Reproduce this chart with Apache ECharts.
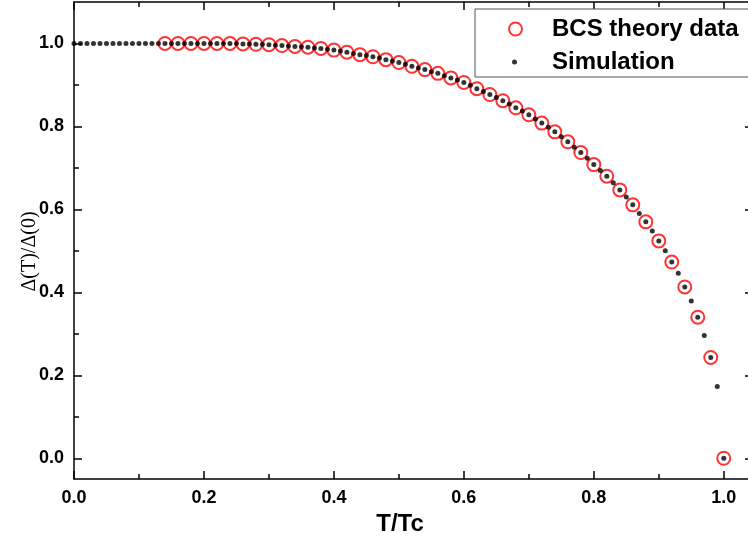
<!DOCTYPE html>
<html><head><meta charset="utf-8">
<script src="https://cdn.jsdelivr.net/npm/echarts@6.0.0/dist/echarts.min.js"></script>
<style>html,body{margin:0;padding:0;background:#fff}#c{width:748px;height:540px}</style>
</head><body><div id="c"></div>
<script>
// BCS theory data (T/Tc, Δ(T)/Δ(0))
const bcsT = [0.14,0.16,0.18,0.20,0.22,0.24,0.26,0.28,0.30,0.32,0.34,0.36,0.38,0.40,0.42,0.44,0.46,0.48,0.50,0.52,
  0.54,0.56,0.58,0.60,0.62,0.64,0.66,0.68,0.70,0.72,0.74,0.76,0.78,0.80,0.82,0.84,0.86,0.88,0.90,0.92,0.94,0.96,0.98,1.00];
const bcsGap = [1.000,1.000,1.000,1.000,1.000,1.000,0.999,0.998,0.997,0.995,0.993,0.991,0.988,0.984,0.979,0.973,0.968,0.961,0.954,0.945,
  0.937,0.928,0.917,0.906,0.891,0.877,0.862,0.845,0.828,0.808,0.787,0.763,0.737,0.708,0.680,0.647,0.611,0.570,0.524,0.473,0.413,0.340,0.243,0.000];
// Simulation
const simT = [0.00,0.01,0.02,0.03,0.04,0.05,0.06,0.07,0.08,0.09,0.10,0.11,0.12,0.13,0.14,0.15,0.16,0.17,0.18,0.19,
  0.20,0.21,0.22,0.23,0.24,0.25,0.26,0.27,0.28,0.29,0.30,0.31,0.32,0.33,0.34,0.35,0.36,0.37,0.38,0.39,
  0.40,0.41,0.42,0.43,0.44,0.45,0.46,0.47,0.48,0.49,0.50,0.51,0.52,0.53,0.54,0.55,0.56,0.57,0.58,0.59,
  0.60,0.61,0.62,0.63,0.64,0.65,0.66,0.67,0.68,0.69,0.70,0.71,0.72,0.73,0.74,0.75,0.76,0.77,0.78,0.79,
  0.80,0.81,0.82,0.83,0.84,0.85,0.86,0.87,0.88,0.89,0.90,0.91,0.92,0.93,0.94,0.95,0.96,0.97,0.98,0.99,1.00];
const simGap = [1.000,1.000,1.000,1.000,1.000,1.000,1.000,1.000,1.000,1.000,1.000,1.000,1.000,1.000,1.000,1.000,1.000,1.000,1.000,1.000,
  1.000,1.000,1.000,1.000,1.000,1.000,0.999,0.999,0.998,0.998,0.997,0.996,0.995,0.994,0.993,0.992,0.991,0.989,0.988,0.986,
  0.984,0.982,0.979,0.976,0.973,0.971,0.968,0.965,0.961,0.958,0.954,0.950,0.945,0.941,0.937,0.932,0.928,0.922,0.917,0.912,
  0.906,0.899,0.891,0.884,0.877,0.870,0.862,0.854,0.845,0.837,0.828,0.818,0.808,0.798,0.787,0.775,0.763,0.750,0.737,0.723,
  0.708,0.694,0.680,0.664,0.647,0.630,0.611,0.590,0.570,0.548,0.524,0.500,0.473,0.446,0.413,0.379,0.340,0.296,0.243,0.173,0.000];
const xMajorTicks = [0.0,0.2,0.4,0.6,0.8,1.0];
const xMinorTicks = [0.1,0.3,0.5,0.7,0.9];
const yMajorTicks = [0.0,0.2,0.4,0.6,0.8,1.0];
const yMinorTicks = [0.1,0.3,0.5,0.7,0.9];
const seriesNames = ['BCS theory data','Simulation'];
const xName = 'T/Tc';
const yName = 'Δ(T)/Δ(0)';

const X_MIN = 0, X_MAX = 1.045, Y_MIN = -0.05, Y_MAX = 1.1;
const LINE = {color:'#000', width:1.5};
const labelStyle = {fontFamily:'Liberation Sans', fontSize:18, fontWeight:'bold', color:'#000'};
const fmt = v => Number(v).toFixed(1);

function xAx(pos, ticks, len, showLine, showLabel, extra) {
  return Object.assign({
    type:'value', position:pos, min:X_MIN, max:X_MAX,
    axisLine:{show:showLine, onZero:false, lineStyle:LINE},
    axisTick:{show:true, inside:true, length:len, customValues:ticks, lineStyle:LINE},
    axisLabel:{show:showLabel, customValues:ticks, formatter:fmt, margin:10, ...labelStyle},
    splitLine:{show:false}, minorTick:{show:false}
  }, extra || {});
}
function yAx(pos, ticks, len, showLine, showLabel, extra) {
  return Object.assign({
    type:'value', position:pos, min:Y_MIN, max:Y_MAX,
    axisLine:{show:showLine, onZero:false, lineStyle:LINE},
    axisTick:{show:true, inside:true, length:len, customValues:ticks, lineStyle:LINE},
    axisLabel:{show:showLabel, customValues:ticks, formatter:fmt, margin:10, ...labelStyle},
    splitLine:{show:false}, minorTick:{show:false}
  }, extra || {});
}

const chart = echarts.init(document.getElementById('c'), null, {renderer:'canvas'});
const legendText = {fontFamily:'Liberation Sans', fontSize:24, fontWeight:'bold', color:'#000', lineHeight:24};
chart.setOption({
  animation:false,
  backgroundColor:'#fff',
  grid:{left:74, top:2, width:679, height:477, containLabel:false, outerBoundsMode:'none'},
  xAxis:[
    xAx('bottom', xMajorTicks, 8, true, true, {
      name:xName, nameLocation:'middle', nameGap:33, nameMoveOverlap:false,
      nameTextStyle:{fontFamily:'Liberation Sans', fontSize:24, fontWeight:'bold', color:'#000', padding:[0,27,0,0]}
    }),
    xAx('top', xMajorTicks, 8, true, false),
    xAx('bottom', xMinorTicks, 5, false, false),
    xAx('top', xMinorTicks, 5, false, false)
  ],
  yAxis:[
    yAx('left', yMajorTicks, 8, true, true, {
      name:yName, nameLocation:'middle', nameGap:34, nameMoveOverlap:false,
      nameTextStyle:{fontFamily:'Liberation Serif', fontSize:20, color:'#000', padding:[0,22,0,0]}
    }),
    yAx('right', yMajorTicks, 8, true, false),
    yAx('left', yMinorTicks, 5, false, false),
    yAx('right', yMinorTicks, 5, false, false)
  ],
  legend:[
    {data:[seriesNames[0]], orient:'vertical', left:475, top:9, padding:[8,12,36,33],
     itemWidth:13, itemHeight:13, borderColor:'#555', borderWidth:1, backgroundColor:'#fff',
     itemStyle:{borderWidth:2}, textStyle:Object.assign({padding:[0,0,0,25]}, legendText), selectedMode:false},
    {data:[seriesNames[1]], orient:'vertical', left:512, top:50, padding:0,
     itemWidth:5, itemHeight:5, textStyle:Object.assign({padding:[0,0,0,30]}, legendText), selectedMode:false}
  ],
  series:[
    {name:seriesNames[0], type:'scatter', xAxisIndex:0, yAxisIndex:0,
     data:bcsT.map((t,i)=>[t,bcsGap[i]]), symbol:'circle', symbolSize:13,
     itemStyle:{color:'rgba(255,255,255,0)', borderColor:'#ff0000', borderWidth:2}, z:2},
    {name:seriesNames[1], type:'scatter', xAxisIndex:0, yAxisIndex:0,
     data:simT.map((t,i)=>[t,simGap[i]]), symbol:'circle', symbolSize:5,
     itemStyle:{color:'#000'}, z:3}
  ]
});
</script></body></html>
